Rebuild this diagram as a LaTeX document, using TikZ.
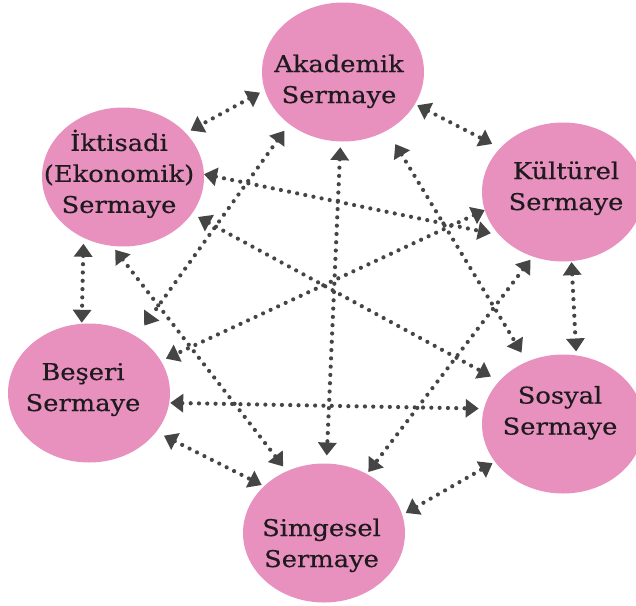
\documentclass[tikz,border=0pt]{standalone}
\usepackage{fontspec}
\setmainfont{DejaVu Serif}
\newfontfamily\capfont{DejaVu Serif}[FakeBold=0.4]
\usetikzlibrary{shapes.geometric,arrows.meta}
\definecolor{capfill}{HTML}{E891BE}
\definecolor{linkgray}{HTML}{454545}
\definecolor{inkdark}{HTML}{1E1A1E}
% centred, slightly widened multi-line caption
\newcommand\capname[1]{\scalebox{1.12}[1]{\begin{tabular}{@{}c@{}}#1\end{tabular}}}
\begin{document}
\begin{tikzpicture}[x=1pt,y=-1pt,
  capital/.style={ellipse, fill=capfill, minimum width=162pt, minimum height=139pt,
    inner sep=0pt, outer sep=0pt},
  caption/.style={text=inkdark, font=\capfont\fontsize{23}{31}\selectfont, inner sep=0pt},
  link/.style 2 args={draw=linkgray, line width=4.2pt, line cap=round,
    dash pattern=on 0pt off 8.3pt, shorten <=#1, shorten >=#2,
    {Triangle[length=13pt,width=18pt]}-{Triangle[length=13pt,width=18pt]}}
]
\path[use as bounding box] (0,0) rectangle (636,605);

% the six forms of capital
\node[capital, label={[caption, xshift=-4pt, yshift=-9.3pt]center:{\capname{Akademik\\Sermaye}}}] (ak) at (343,72) {};
\node[capital, label={[caption, xshift=-4pt, yshift=1.3pt]center:{\capname{İktisadi\\(Ekonomik)\\Sermaye}}}] (ik) at (123,177) {};
\node[capital, label={[caption, xshift=3pt, yshift=3.7pt]center:{\capname{Kültürel\\Sermaye}}}] (ku) at (563,192) {};
\node[capital, label={[caption, xshift=-6pt, yshift=3.7pt]center:{\capname{Beşeri\\Sermaye}}}] (be) at (89,393) {};
\node[capital, label={[caption, xshift=-3pt, yshift=11.2pt]center:{\capname{Sosyal\\Sermaye}}}] (so) at (563,424) {};
\node[capital, label={[caption, xshift=-2.5pt, yshift=-12.3pt]center:{\capname{Simgesel\\Sermaye}}}] (si) at (324,533) {};

% every pair is linked both ways
\draw[link={5.5pt}{5.4pt}] (ak.193.3) -- (ik.35.1);
\draw[link={2.7pt}{9pt}]   (ak.336.8) -- (ku.145.2);
\draw[link={6pt}{1pt}]     (ik.237.4) -- (be.96.5);
\draw[link={1pt}{4pt}]     (ku.277.4) -- (so.79.8);
\draw[link={8.6pt}{2.7pt}] (be.330.8) -- (si.142.4);
\draw[link={4pt}{2.8pt}]   (si.13.6)  -- (so.209.3);
\draw[link={5.7pt}{8pt}]   (ak.268.3) -- (si.88.1);
\draw[link={8.3pt}{13.5pt}](ak.224.5) -- (be.50.6);
\draw[link={16pt}{10.6pt}] (ak.307.3) -- (so.120.5);
\draw[link={0pt}{8.6pt}]   (ik.2.7)   -- (ku.214.4);
\draw[link={7pt}{9.5pt}]   (ik.332.1) -- (so.146);
\draw[link={5pt}{6pt}]     (ik.261.2) -- (si.121.1);
\draw[link={0pt}{5.5pt}]   (ku.193.4) -- (be.24.4);
\draw[link={4pt}{2.5pt}]   (ku.245.7) -- (si.54.9);
\draw[link={1pt}{5.3pt}]   (be.353.9) -- (so.169.5);
\end{tikzpicture}
\end{document}
